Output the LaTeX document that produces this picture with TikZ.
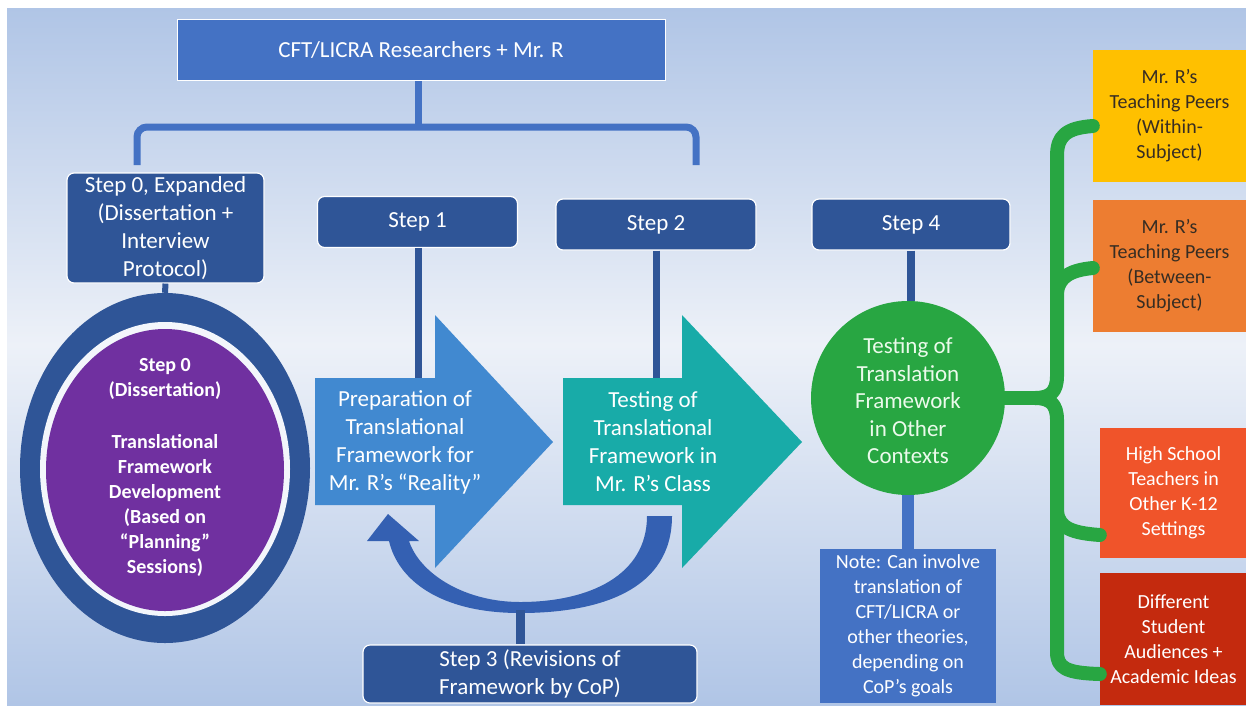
\documentclass[tikz,border=0pt]{standalone}
\usepackage{fontspec}
\setmainfont{Carlito}
\usetikzlibrary{shapes.geometric}
\definecolor{bgb}{RGB}{176,197,230}
\definecolor{bgw}{RGB}{237,241,248}
\definecolor{midblue}{RGB}{68,114,196}
\definecolor{stepblue}{RGB}{47,85,151}
\definecolor{arrowblue}{RGB}{65,137,208}
\definecolor{arrowteal}{RGB}{24,171,168}
\definecolor{curveblue}{RGB}{52,96,178}
\definecolor{ppl}{RGB}{112,48,160}
\definecolor{grn}{RGB}{40,166,66}
\definecolor{yel}{RGB}{255,192,0}
\definecolor{org}{RGB}{237,125,49}
\definecolor{redo}{RGB}{240,84,42}
\definecolor{dred}{RGB}{196,42,14}
\definecolor{darktxt}{RGB}{55,45,35}
\definecolor{circtxt}{RGB}{235,250,235}
\tikzset{
  bigfont/.style={font=\fontsize{23}{28}\selectfont},
  smallfont/.style={font=\fontsize{20}{25}\selectfont},
  mainbox/.style={fill=midblue, draw=white, line width=1pt, text=white, bigfont, align=center, inner sep=0pt},
  stepbox/.style={fill=stepblue, draw=white, line width=1.2pt, rounded corners=7pt, text=white, bigfont, align=center, inner sep=0pt},
  sidebox/.style={minimum width=153pt, minimum height=132pt, inner sep=0pt, align=center, smallfont},
  notebox/.style={fill=midblue, text=white, smallfont, align=center, inner sep=0pt, minimum width=176pt, minimum height=154pt},
  arrowtxt/.style={text=white, bigfont, align=center},
  bracel/.style={draw=midblue, line width=7pt},
  conn/.style={draw=stepblue, line width=7pt},
  gline/.style={draw=grn, line width=14pt, line join=round, line cap=round}
}
\begin{document}
\begin{tikzpicture}[x=1pt, y=-1pt]
\useasboundingbox (0,0) rectangle (1246,705);
\fill[white] (0,0) rectangle (1246,705);
\fill[top color=bgb, bottom color=bgw] (7,8) rectangle (1246,345);
\fill[top color=bgw, bottom color=bgb] (7,345) rectangle (1246,705);

% top box and bracket
\node[mainbox, minimum width=488pt, minimum height=61pt] (top) at (421,50) {CFT/LICRA Researchers + Mr. R};
\coordinate (bm) at (418,127);
\coordinate (bl) at (137,165);
\coordinate (br) at (696,165);
\draw[bracel] (top.south -| bm) -- (bm);
\draw[bracel, rounded corners=10pt] (bl) -- (bl |- bm) -- (br |- bm) -- (br);

% step boxes
\node[stepbox, minimum width=197pt, minimum height=110pt] (s0) at (165.5,228) {Step 0, Expanded\\(Dissertation +\\Interview\\Protocol)};
\node[stepbox, minimum width=200pt, minimum height=51pt] (s1) at (417.5,222) {Step 1};
\node[stepbox, minimum width=200pt, minimum height=51pt] (s2) at (656,224.5) {Step 2};
\node[stepbox, minimum width=198pt, minimum height=51pt] (s4) at (911,224.5) {Step 4};

% step 0 ellipse
\node[ellipse, fill=stepblue, minimum width=290pt, minimum height=350pt, inner sep=0pt] (e0) at (165,468) {};
\fill[white!85!bgb] (165,469) ellipse [x radius=125, y radius=147];
\fill[ppl] (165,470) ellipse [x radius=119, y radius=141];
\node[text=white, align=center, font=\fontsize{20}{25}\selectfont\bfseries] (e0t) at (165,467) {Step 0\\(Dissertation)\\[27pt]Translational\\Framework\\Development\\(Based on\\“Planning”\\Sessions)};
\draw[conn, line width=6pt] (s0.south) -- (e0.north);

% block arrows
\fill[arrowblue] (315,378) -- (435,378) -- (435,315) -- (553,442) -- (435,568) -- (435,505) -- (315,505) -- cycle;
\node[arrowtxt] (a1) at (405,442) {Preparation of\\Translational\\Framework for\\Mr. R’s “Reality”};
\fill[arrowteal] (563,378) -- (682,378) -- (682,315) -- (802,442) -- (682,568) -- (682,505) -- (563,505) -- cycle;
\node[arrowtxt] (a2) at (653,442) {Testing of\\Translational\\Framework in\\Mr. R’s Class};
\coordinate (a1top) at (418,378);
\coordinate (a2top) at (656,378);
\draw[conn] (s1.south -| a1top) -- (a1top);
\draw[conn] (s2.south) -- (s2.south |- a2top);

% curved feedback arrow
\fill[curveblue] (647,516) -- (672,516)
  .. controls (672,590) and (600,613) .. (520,613)
  .. controls (440,613) and (398,580) .. (389,541)
  -- (367,541) -- (388,514) -- (419,541) -- (409,541)
  .. controls (420,574) and (465,602) .. (520,602)
  .. controls (590,602) and (647,575) .. (647,516) -- cycle;
\node[stepbox, minimum width=334pt, minimum height=58pt] (s3) at (530,674) {Step 3 (Revisions of\\Framework by CoP)};
\coordinate (cb) at (520,610);
\draw[conn, line width=9pt] (cb) -- (cb |- s3.north);

% step 4 circle
\node[circle, fill=grn, minimum size=194pt, inner sep=0pt] (c4) at (908,398) {};
\node[text=circtxt, align=center, font=\fontsize{23}{27.5}\selectfont] (c4t) at (908,401) {Testing of\\Translation\\Framework\\in Other\\Contexts};
\draw[conn, line width=8pt] (s4.south) -- (s4.south |- c4.north);
\node[notebox] (nt) at (908,626) {Note: Can involve\\translation of\\CFT/LICRA or\\other theories,\\depending on\\CoP’s goals};
\draw[draw=midblue, line width=12pt] (c4.south) -- (nt.north);

% right boxes
\node[sidebox, fill=yel, text=darktxt] (b1) at (1169.5,116) {Mr. R’s\\Teaching Peers\\(Within-\\Subject)};
\node[sidebox, fill=org, text=darktxt] (b2) at (1169.5,266) {Mr. R’s\\Teaching Peers\\(Between-\\Subject)};
\node[sidebox, fill=redo, text=white, minimum width=147pt, minimum height=130pt] (b3) at (1173.5,493) {High School\\Teachers in\\Other K-12\\Settings};
\node[sidebox, fill=dred, text=white, minimum width=147pt, minimum height=132pt] (b4) at (1173.5,639) {Different\\Student\\Audiences +\\Academic Ideas};

% green brace
\coordinate (gt) at (1035,398);
\draw[gline] (c4.east) -- (gt);
\draw[gline] (b1.west |- 0,126) .. controls (1066,128) and (1057,136) .. (1057,156) -- (1057,376) .. controls (1057,392) and (1050,398) .. (gt);
\draw[gline] (gt) .. controls (1050,398) and (1057,404) .. (1057,420) -- (1057,652) .. controls (1057,668) and (1066,673) .. (b4.west |- 0,674);
\draw[gline] (1057,292) .. controls (1059,276) and (1072,270) .. (b2.west |- 0,268);
\draw[gline] (1057,512) .. controls (1059,528) and (1072,533) .. (b3.west |- 0,535);
\end{tikzpicture}
\end{document}
